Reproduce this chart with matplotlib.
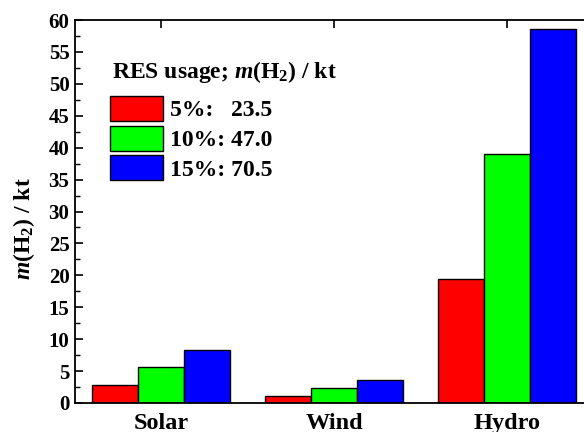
import numpy as np
import matplotlib
matplotlib.use("Agg")
import matplotlib.pyplot as plt
from matplotlib.ticker import MultipleLocator

plt.rcParams["font.family"] = "Liberation Serif"
plt.rcParams["font.weight"] = "bold"
plt.rcParams["mathtext.fontset"] = "custom"
plt.rcParams["mathtext.rm"] = "Liberation Serif:bold"
plt.rcParams["mathtext.bf"] = "Liberation Serif:bold"
plt.rcParams["mathtext.it"] = "Liberation Serif:italic:bold"

categories = ["Solar", "Wind", "Hydro"]
series_labels = ["5%:   23.5", "10%: 47.0", "15%: 70.5"]
vals_5 = [2.8, 1.15, 19.5]
vals_10 = [5.6, 2.35, 39.0]
vals_15 = [8.35, 3.55, 58.6]
colors = ["#ff0000", "#00ff00", "#0000ff"]

fig = plt.figure(figsize=(5.84, 4.32), dpi=100)
ax = fig.add_axes([75 / 584, 29 / 432, 518 / 584, 383 / 432])

x = np.arange(1, len(categories) + 1)
w = 0.8 / 3
for i, (vals, lab) in enumerate(zip([vals_5, vals_10, vals_15], series_labels)):
    ax.bar(x + (i - 1) * w, vals, w, color=colors[i], edgecolor="black",
           linewidth=1.0, label=lab, zorder=2)

ax.set_xlim(0.5, 3.5)
ax.set_ylim(0, 60)
ax.set_xticks(x)
ax.set_xticklabels(categories, fontsize=17.5, fontweight="bold")
ax.yaxis.set_major_locator(MultipleLocator(5))
ax.yaxis.set_minor_locator(MultipleLocator(2.5))
ax.tick_params(axis="y", which="major", direction="in", length=6, width=1.2,
               labelsize=15, pad=4)
ax.tick_params(axis="y", which="minor", direction="in", length=3.5, width=1.0)
ax.tick_params(axis="x", which="major", direction="in", length=6, width=1.2,
               top=True, pad=7.5)
for s in ax.spines.values():
    s.set_linewidth(1.3)

ax.set_ylabel(r"$m$(H$_{2}$) / kt", fontsize=17, fontweight="bold")
ax.yaxis.set_label_coords(-0.073, 0.456)

# legend title drawn as its own text so the gap below it matches
ax.text(0.0714, 0.8486, r"RES usage; $m$(H$_{2}$) / kt", transform=ax.transAxes,
        fontsize=17, fontweight="bold", ha="left", va="baseline")
ax.legend(loc="upper left", bbox_to_anchor=(0.0676, 0.8016), frameon=False,
          fontsize=17, handlelength=2.25, handleheight=1.25,
          labelspacing=0.18, handletextpad=0.3, borderpad=0, borderaxespad=0)

fig.savefig("out.png", dpi=100)
